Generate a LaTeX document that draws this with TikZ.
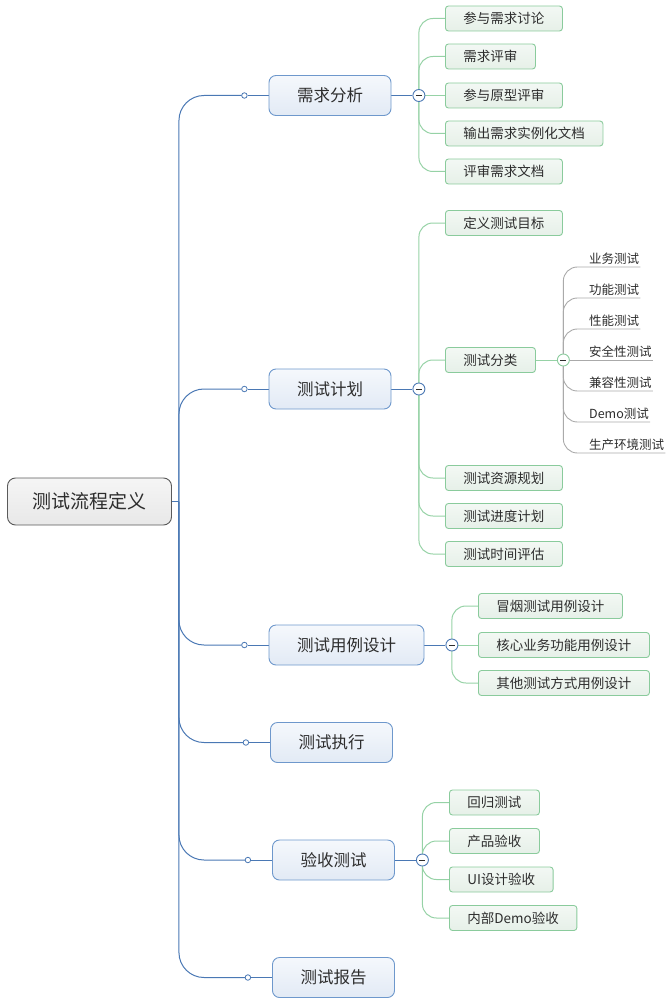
\documentclass[tikz,border=0pt]{standalone}
\usepackage{fontspec}
\setmainfont{Noto Sans CJK SC}
\usetikzlibrary{backgrounds, positioning}

\definecolor{inkgray}{RGB}{45,45,45}
\definecolor{rootedge}{RGB}{90,90,90}
\definecolor{trunkblue}{RGB}{74,120,180}
\definecolor{topicedge}{RGB}{110,152,204}
\definecolor{topictop}{RGB}{245,248,252}
\definecolor{topicbottom}{RGB}{226,234,245}
\definecolor{leafedge}{RGB}{138,203,156}
\definecolor{leaftop}{RGB}{243,248,244}
\definecolor{leafbottom}{RGB}{230,240,232}
\definecolor{leafline}{RGB}{150,210,166}
\definecolor{twiggray}{RGB}{170,170,170}

\begin{document}
\begin{tikzpicture}[
		x=1pt, y=-1pt,
		nodes = {
			align = center,
			text = inkgray
		},
		central/.style={
			draw=rootedge,
			rounded corners=8pt,
			top color=white!96!black,
			bottom color=white!91!black,
			font=\fontsize{19}{22}\selectfont,
			minimum height=47pt,
			inner xsep=25pt,
			line width=0.9pt
		},
		topic/.style={
			draw=topicedge,
			rounded corners=7pt,
			top color=topictop,
			bottom color=topicbottom,
			font=\fontsize{16.5}{20}\selectfont,
			minimum height=40pt,
			inner xsep=28pt,
			line width=0.9pt
		},
		leaf/.style={
			draw=leafedge,
			rounded corners=3pt,
			top color=leaftop,
			bottom color=leafbottom,
			font=\fontsize{13.5}{16}\selectfont,
			minimum height=25pt,
			inner xsep=18pt,
			anchor=west,
			line width=0.9pt
		},
		twig/.style={
			font=\fontsize{12.5}{15}\selectfont,
			inner xsep=1pt,
			inner ysep=2.5pt,
			anchor=south west
		},
		knob/.style={
			circle,
			draw=trunkblue,
			fill=white,
			inner sep=0pt,
			minimum size=5.5pt,
			line width=0.8pt
		},
		fold/.style={
			circle,
			draw=#1,
			fill=white,
			inner sep=0pt,
			minimum size=12pt,
			line width=0.9pt,
			path picture={
				\draw[line width=1pt, inkgray]
					([xshift=-3pt]path picture bounding box.center) --
					([xshift=3pt]path picture bounding box.center);
			}
		},
		trunkline/.style={
			draw=trunkblue,
			line width=1pt
		},
		greenline/.style={
			draw=leafline,
			line width=1pt,
			rounded corners=14pt
		},
		grayline/.style={
			draw=twiggray,
			line width=0.9pt,
			rounded corners=14pt
		}
	]
		\useasboundingbox (0,0) rectangle (671,1003);

		\node[central] (lc) at (89.5,501.5) {测试流程定义};
		\coordinate (trunk) at ([xshift=7pt]lc.east);

		\node[topic] (fx) at (330,95.5) {需求分析};
		\node[topic] (jh) at (330,389) {测试计划};
		\node[topic] (yl) at (346.5,645) {测试用例设计};
		\node[topic] (zx) at (331.5,742.5) {测试执行};
		\node[topic] (ys) at (333.5,860) {验收测试};
		\node[topic] (bg) at (333.5,977.5) {测试报告};

		\node[knob] (dfx) [left=21pt of fx] {};
		\node[knob] (djh) [left=21pt of jh] {};
		\node[knob] (dyl) [left=21pt of yl] {};
		\node[knob] (dzx) [left=21pt of zx] {};
		\node[knob] (dys) [left=21pt of ys] {};
		\node[knob] (dbg) [left=21pt of bg] {};

		\node[fold=trunkblue] (ffx) [right=21pt of fx] {};
		\node[fold=trunkblue] (fjh) [right=21pt of jh] {};
		\node[fold=trunkblue] (fyl) [right=21pt of yl] {};
		\node[fold=trunkblue] (fys) [right=21pt of ys] {};

		\node[leaf] (fx1) at (445,18.5) {参与需求讨论};
		\node[leaf] (fx2) at (445,56.5) {需求评审};
		\node[leaf] (fx3) at (445,95.5) {参与原型评审};
		\node[leaf] (fx4) at (445,133.5) {输出需求实例化文档};
		\node[leaf] (fx5) at (445,171.5) {评审需求文档};

		\node[leaf] (jh1) at (445,223) {定义测试目标};
		\node[leaf] (fl) at (445,360) {测试分类};
		\node[leaf] (jh3) at (445,478) {测试资源规划};
		\node[leaf] (jh4) at (445,516) {测试进度计划};
		\node[leaf] (jh5) at (445,554) {测试时间评估};

		\node[fold=leafedge] (ffl) [right=21pt of fl] {};
		\node[twig] (fl1) at (588,267) {业务测试};
		\node[twig] (fl2) at (588,298) {功能测试};
		\node[twig] (fl3) at (588,329) {性能测试};
		\node[twig] (fl4) at (588,360) {安全性测试};
		\node[twig] (fl5) at (588,391) {兼容性测试};
		\node[twig] (fl6) at (588,422) {Demo测试};
		\node[twig] (fl7) at (588,453) {生产环境测试};

		\node[leaf] (yl1) at (478,606) {冒烟测试用例设计};
		\node[leaf] (yl2) at (478,645) {核心业务功能用例设计};
		\node[leaf] (yl3) at (478,683) {其他测试方式用例设计};

		\node[leaf] (ys1) at (449,802.5) {回归测试};
		\node[leaf] (ys2) at (449,841) {产品验收};
		\node[leaf] (ys3) at (449,879.5) {UI设计验收};
		\node[leaf] (ys4) at (449,918) {内部Demo验收};

		\begin{scope}[on background layer]
			\draw[trunkline] (lc) -- (trunk);
			\draw[trunkline, rounded corners=25pt] (trunk) |- (dfx);
			\draw[trunkline, rounded corners=25pt] (trunk) |- (djh);
			\draw[trunkline, rounded corners=25pt] (trunk) |- (dyl);
			\draw[trunkline, rounded corners=25pt] (trunk) |- (dzx);
			\draw[trunkline, rounded corners=25pt] (trunk) |- (dys);
			\draw[trunkline, rounded corners=25pt] (trunk) |- (dbg);

			\draw[trunkline] (dfx) -- (fx);
			\draw[trunkline] (djh) -- (jh);
			\draw[trunkline] (dyl) -- (yl);
			\draw[trunkline] (dzx) -- (zx);
			\draw[trunkline] (dys) -- (ys);
			\draw[trunkline] (dbg) -- (bg);

			\draw[trunkline] (fx) -- (ffx);
			\draw[trunkline] (jh) -- (fjh);
			\draw[trunkline] (yl) -- (fyl);
			\draw[trunkline] (ys) -- (fys);

			\draw[greenline] (ffx.center) |- (fx1);
			\draw[greenline] (ffx.center) |- (fx2);
			\draw[greenline] (ffx.center) -- (fx3);
			\draw[greenline] (ffx.center) |- (fx4);
			\draw[greenline] (ffx.center) |- (fx5);

			\draw[greenline] (fjh.center) |- (jh1);
			\draw[greenline] (fjh.center) |- (fl);
			\draw[greenline] (fjh.center) |- (jh3);
			\draw[greenline] (fjh.center) |- (jh4);
			\draw[greenline] (fjh.center) |- (jh5);

			\draw[greenline] (fl) -- (ffl);
			\draw[grayline] (ffl.center) |- (fl1.south east);
			\draw[grayline] (ffl.center) |- (fl2.south east);
			\draw[grayline] (ffl.center) |- (fl3.south east);
			\draw[grayline] (ffl.center) -- (fl4.south east);
			\draw[grayline] (ffl.center) |- (fl5.south east);
			\draw[grayline] (ffl.center) |- (fl6.south east);
			\draw[grayline] (ffl.center) |- (fl7.south east);

			\draw[greenline] (fyl.center) |- (yl1);
			\draw[greenline] (fyl.center) -- (yl2);
			\draw[greenline] (fyl.center) |- (yl3);

			\draw[greenline] (fys.center) |- (ys1);
			\draw[greenline] (fys.center) |- (ys2);
			\draw[greenline] (fys.center) |- (ys3);
			\draw[greenline] (fys.center) |- (ys4);
		\end{scope}

	\end{tikzpicture}
\end{document}
